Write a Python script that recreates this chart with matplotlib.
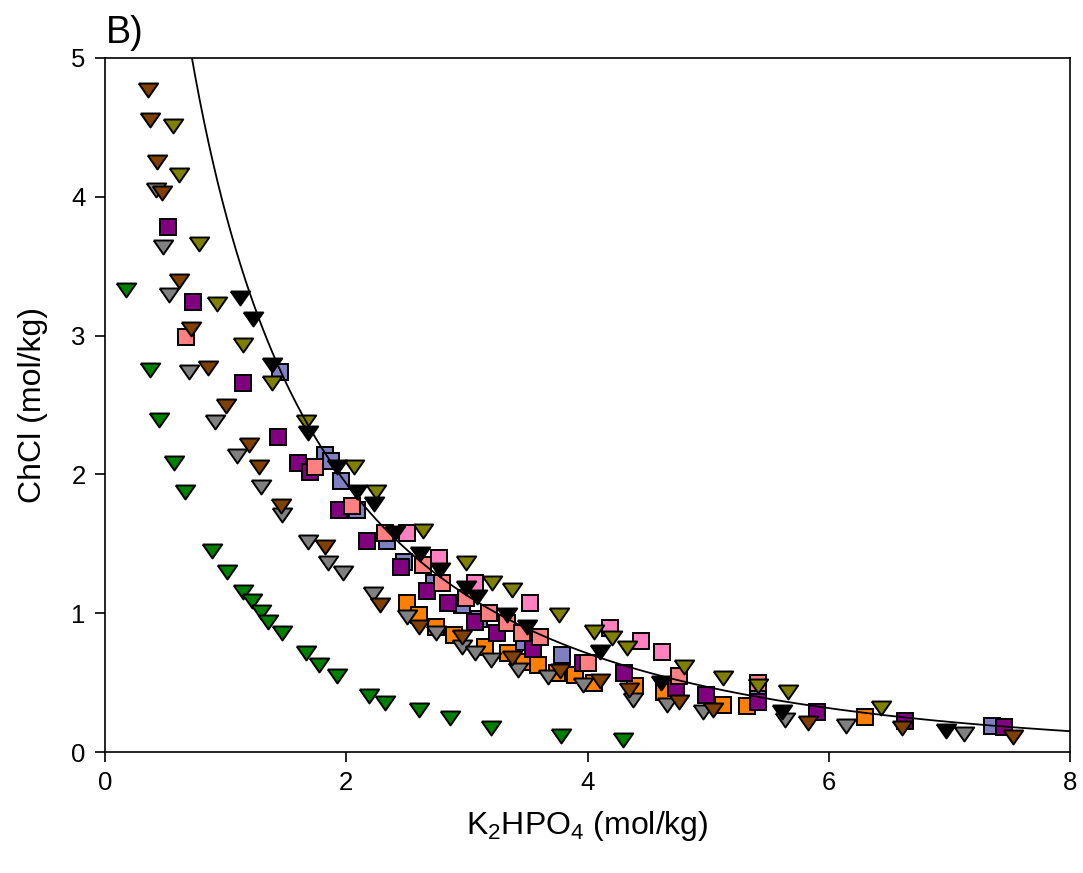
import numpy as np
import matplotlib
matplotlib.use("Agg")
import matplotlib.pyplot as plt

plt.rcParams['font.family'] = ['Liberation Sans', 'DejaVu Sans']
plt.rcParams['mathtext.default'] = 'regular'

# ---- data (K2HPO4, ChCl in mol/kg) ----
green_x = [0.17, 0.37, 0.45, 0.57, 0.66, 0.89, 1.01, 1.14, 1.22, 1.29, 1.35, 1.47,
           1.67, 1.77, 1.92, 2.19, 2.32, 2.60, 2.86, 3.20, 3.78, 4.29]
green_y = [3.33, 2.75, 2.39, 2.08, 1.87, 1.45, 1.30, 1.15, 1.09, 1.01, 0.94, 0.86,
           0.71, 0.63, 0.55, 0.40, 0.35, 0.30, 0.245, 0.17, 0.115, 0.086]

brown_x = [0.36, 0.37, 0.43, 0.47, 0.61, 0.71, 0.85, 1.00, 1.19, 1.28, 1.46, 1.82,
           2.28, 2.60, 2.96, 3.37, 3.77, 4.10, 4.34, 4.76, 5.04, 5.83, 6.61, 7.53]
brown_y = [4.77, 4.55, 4.25, 4.03, 3.39, 3.05, 2.77, 2.49, 2.21, 2.05, 1.77, 1.48,
           1.06, 0.90, 0.83, 0.68, 0.58, 0.51, 0.45, 0.36, 0.30, 0.21, 0.17, 0.11]

olive_x = [0.56, 0.61, 0.78, 0.93, 1.14, 1.38, 1.67, 2.06, 2.25, 2.64, 2.99, 3.21,
           3.37, 3.76, 4.05, 4.20, 4.33, 4.80, 5.12, 5.41, 5.66, 6.43]
olive_y = [4.51, 4.16, 3.66, 3.23, 2.93, 2.66, 2.38, 2.05, 1.87, 1.59, 1.36, 1.22,
           1.17, 0.99, 0.865, 0.82, 0.75, 0.61, 0.53, 0.475, 0.43, 0.32]

gray_x = [0.42, 0.48, 0.53, 0.70, 0.91, 1.09, 1.29, 1.47, 1.68, 1.85, 1.97, 2.22,
          2.50, 2.74, 2.96, 3.07, 3.20, 3.42, 3.67, 3.96, 4.38, 4.66, 4.96, 5.64,
          6.14, 7.12]
gray_y = [4.05, 3.64, 3.29, 2.74, 2.38, 2.13, 1.91, 1.71, 1.51, 1.36, 1.29, 1.14,
          0.97, 0.86, 0.76, 0.71, 0.66, 0.59, 0.54, 0.48, 0.375, 0.34, 0.29, 0.23,
          0.19, 0.13]

black_x = [1.12, 1.23, 1.38, 1.68, 1.92, 2.09, 2.23, 2.40, 2.61, 2.78, 2.99, 3.08,
           3.33, 3.50, 4.10, 4.61, 5.61, 6.97]
black_y = [3.27, 3.12, 2.79, 2.30, 2.05, 1.87, 1.79, 1.58, 1.43, 1.31, 1.18, 1.12,
           0.99, 0.90, 0.72, 0.50, 0.29, 0.15]

purple_x = [0.52, 0.73, 1.14, 1.43, 1.60, 1.70, 1.94, 2.17, 2.45, 2.67, 2.84, 3.07,
            3.25, 3.55, 3.96, 4.30, 4.73, 4.98, 5.41, 5.90, 6.63, 7.45]
purple_y = [3.78, 3.24, 2.66, 2.27, 2.08, 2.02, 1.74, 1.52, 1.33, 1.16, 1.07, 0.94,
            0.86, 0.74, 0.64, 0.57, 0.46, 0.41, 0.36, 0.29, 0.22, 0.18]

blue_x = [1.45, 1.82, 1.87, 1.96, 2.09, 2.34, 2.48, 2.73, 2.96, 3.10, 3.47, 3.79,
          5.41, 7.35]
blue_y = [2.74, 2.14, 2.10, 1.95, 1.74, 1.52, 1.37, 1.22, 1.06, 0.96, 0.79, 0.70,
          0.43, 0.19]

salmon_x = [0.67, 1.74, 2.05, 2.32, 2.64, 2.79, 2.99, 3.18, 3.33, 3.46, 3.61, 4.00,
            4.76, 5.41]
salmon_y = [2.99, 2.05, 1.77, 1.58, 1.35, 1.22, 1.11, 1.00, 0.93, 0.86, 0.83, 0.64,
            0.55, 0.50]

pink_x = [2.50, 2.77, 3.07, 3.52, 4.19, 4.44, 4.62]
pink_y = [1.58, 1.40, 1.22, 1.07, 0.89, 0.80, 0.72]

orange_x = [2.50, 2.60, 2.74, 2.89, 3.15, 3.34, 3.47, 3.59, 3.75, 3.90, 4.05, 4.39,
            4.63, 5.12, 5.32, 6.30]
orange_y = [1.07, 0.99, 0.90, 0.84, 0.76, 0.71, 0.65, 0.63, 0.57, 0.555, 0.50, 0.475,
            0.43, 0.34, 0.33, 0.25]

# Merchuk-type binodal fit: y = exp(a + b*x^0.5 + c*x^3)
fit_a, fit_b, fit_c = 3.03, -1.674, -0.000377

fig = plt.figure(figsize=(10.83, 8.73), dpi=100)
ax = fig.add_axes([0.097, 0.1386, 0.891, 0.795])

tri = [(-1, 0.72), (1, 0.72), (0, -0.72), (-1, 0.72)]
sq_kw = dict(marker='s', markersize=11, markeredgecolor='black', markeredgewidth=1.4, linestyle='none')
tr_kw = dict(marker=tri, markersize=14, markeredgecolor='black', markeredgewidth=1.4, linestyle='none')

ax.plot(orange_x, orange_y, markerfacecolor='#FF8000', **sq_kw)
ax.plot(blue_x, blue_y, markerfacecolor='#8080C0', **sq_kw)
ax.plot(purple_x, purple_y, markerfacecolor='#800080', **sq_kw)
ax.plot(salmon_x, salmon_y, markerfacecolor='#FF8080', **sq_kw)
ax.plot(pink_x, pink_y, markerfacecolor='#FF80C0', **sq_kw)
ax.plot(green_x, green_y, markerfacecolor='#008000', **tr_kw)
ax.plot(gray_x, gray_y, markerfacecolor='#808080', **tr_kw)
ax.plot(brown_x, brown_y, markerfacecolor='#804000', **tr_kw)
ax.plot(olive_x, olive_y, markerfacecolor='#808000', **tr_kw)
ax.plot(black_x, black_y, markerfacecolor='black', **tr_kw)

xf = np.linspace(0.6, 8, 400)
yf = np.exp(fit_a + fit_b * np.sqrt(xf) + fit_c * xf ** 3)
ax.plot(xf, yf, color='black', linewidth=1.3)

ax.set_xlim(0, 8)
ax.set_ylim(0, 5)
ax.set_xticks([0, 2, 4, 6, 8])
ax.set_yticks([0, 1, 2, 3, 4, 5])
ax.tick_params(direction='out', length=7, width=1.2, labelsize=18.5, pad=7)
for s in ax.spines.values():
    s.set_linewidth(1.2)

ax.set_xlabel('K$_2$HPO$_4$ (mol/kg)', fontsize=23, labelpad=10)
ax.set_ylabel('ChCl (mol/kg)', fontsize=23, labelpad=17)
fig.text(0.098, 0.951, 'B)', fontsize=27, va='baseline', ha='left')

fig.savefig('out.png', dpi=100)
